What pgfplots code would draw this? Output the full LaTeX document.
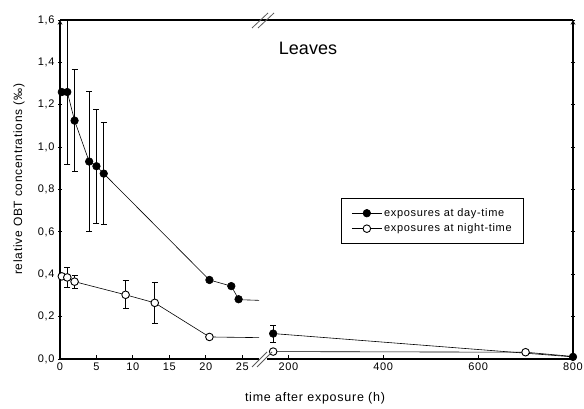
\documentclass[border=0pt]{standalone}
\usepackage{fontspec}
\setmainfont{Liberation Sans}
\newfontfamily\widefont[LetterSpace=6]{Liberation Sans}
\usepackage{pgfplots}
\pgfplotsset{compat=1.18}
\begin{document}
\begin{tikzpicture}[x=1pt,y=1pt]
\useasboundingbox (0,0) rectangle (584,409);
\pgfplotsset{
  brk/.style={scale only axis, height=339pt, ymin=0, ymax=1.6,
    axis x line=bottom, tick align=inside,
    axis line style={-, line width=1.1pt},
    major tick length=4pt, every tick/.style={black, line width=0.8pt},
    ticklabel style={font=\widefont\fontsize{11}{13}\selectfont},
    /pgf/number format/assume math mode=true,
    ytick={0,0.2,...,1.6}},
  day/.style={black, line width=0.6pt, mark=*, mark size=3.8pt,
    mark options={fill=black, line width=0.6pt}},
  night/.style={black, line width=0.6pt, mark=*, mark size=3.8pt,
    mark options={fill=white, line width=0.9pt}},
  eb/.style={error bars/.cd, y dir=both, y explicit,
    error bar style={line width=0.9pt},
    error mark options={rotate=90, mark size=3pt, line width=0.9pt}},
}
% left part: 0-27 h
\begin{axis}[brk, at={(60pt,50pt)}, anchor=south west, width=199pt,
  xmin=0, xmax=27.3, axis y line=left, xtick={0,5,...,25},
  yticklabel style={/pgf/number format/.cd, fixed, fixed zerofill, precision=1, use comma},
  ylabel={relative OBT concentrations (‰)},
  every axis y label/.style={at={(axis description cs:-0.206,0.53)}, rotate=90, anchor=center,
    font=\widefont\fontsize{12}{14}\selectfont}]
\addplot[black, line width=0.6pt, no marks] coordinates {(24.5,0.28) (168,0.12)};
\addplot[black, line width=0.6pt, no marks] coordinates {(20.5,0.104) (168,0.035)};
\addplot[night, eb] coordinates {
  (0.25,0.39) +- (0,0) (1,0.385) +- (0,0.048) (2,0.365) +- (0,0.03)
  (9,0.303) +- (0,0.066) (13,0.265) +- (0,0.098) (20.5,0.104) +- (0,0)};
\addplot[day, eb] coordinates {
  (0.25,1.26) +- (0,0) (1,1.26) +- (0,0.34) (2,1.125) +- (0,0.24)
  (4,0.932) +- (0,0.33) (5,0.91) +- (0,0.27) (6,0.875) +- (0,0.24)
  (20.5,0.373) +- (0,0) (23.5,0.344) +- (0,0) (24.5,0.282) +- (0,0)};
\end{axis}
% right part: 155-800 h
\begin{axis}[brk, at={(267pt,50pt)}, anchor=south west, width=306pt,
  xmin=155, xmax=800, axis y line=right, yticklabels={}, xtick={200,400,600,800},
  legend style={at={(rel axis cs:0.242,0.475)}, anchor=north west, draw=black,
    line width=1pt, inner xsep=10pt, inner ysep=8pt, row sep=2pt,
    font=\widefont\fontsize{11}{13}\selectfont},
  legend cell align=left,
  legend image code/.code={\draw[mark repeat=2,mark phase=2]
    plot coordinates {(0pt,0pt) (15pt,0pt) (30pt,0pt)};}]
\addplot[day, eb] coordinates {(168,0.12) +- (0,0.04) (800,0.01) +- (0,0)};
\addlegendentry{exposures at day-time}
\addplot[night] coordinates {(168,0.035) (700,0.032)};
\addlegendentry{exposures at night-time}
\addplot[black, line width=0.6pt, no marks, forget plot] coordinates {(700,0.032) (800,0.012)};
\end{axis}
% frame top line and axis breaks
\draw[line width=1.1pt] (60,389) -- (573,389);
\draw[line width=0.8pt, gray!70!black] (252,381) -- (268,396) (258,381) -- (274,396);
\draw[line width=0.8pt, gray!70!black] (252,42) -- (267,57) (257,42) -- (272,57);
\node[font=\fontsize{18}{20}\selectfont] at (308,361) {Leaves};
\node[font=\widefont\fontsize{12.5}{14}\selectfont] at (315,11) {time after exposure (h)};
\end{tikzpicture}
\end{document}
